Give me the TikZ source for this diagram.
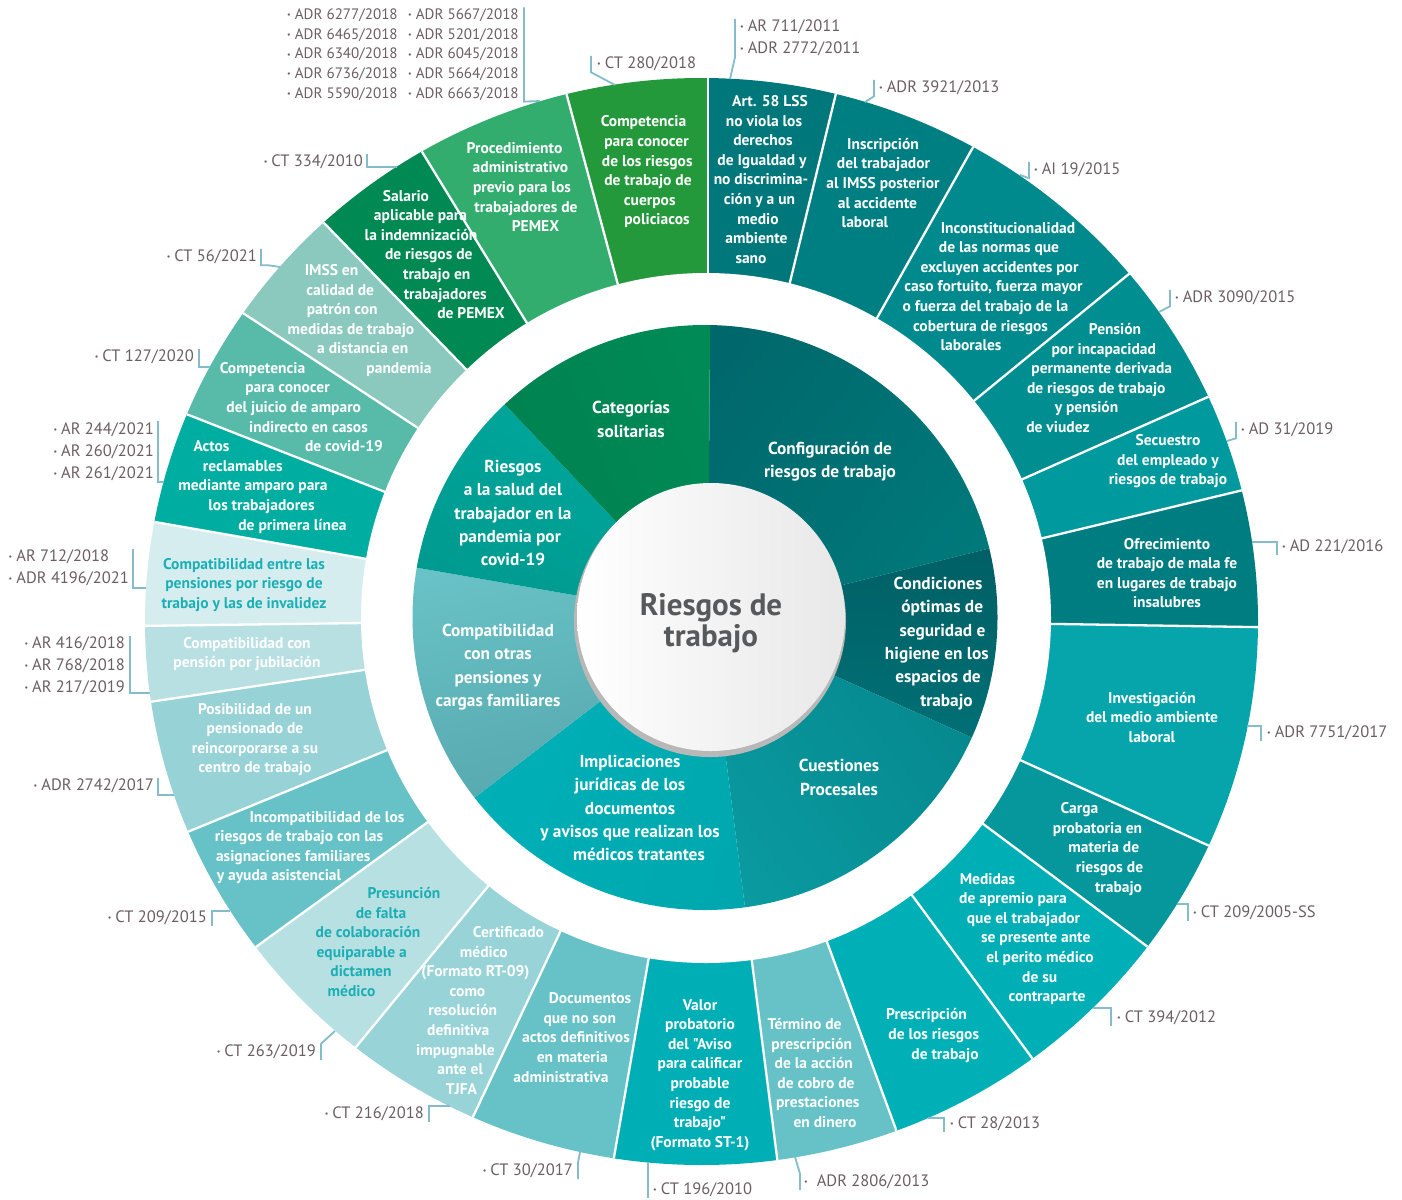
\documentclass[tikz,border=0pt]{standalone}
\usepackage{fontspec}
\setmainfont{PT Sans}[Ligatures=TeXOff]
\definecolor{refc}{HTML}{6D5E63}
\definecolor{brkc}{HTML}{84BCCB}
\definecolor{tealtext}{HTML}{1BAFB5}
\definecolor{ctext}{HTML}{58595B}
% outer ring
\definecolor{o1}{HTML}{00777B}
\definecolor{o2}{HTML}{007F83}
\definecolor{o3}{HTML}{008A8E}
\definecolor{o4}{HTML}{008E91}
\definecolor{o5}{HTML}{00999E}
\definecolor{o6}{HTML}{007D80}
\definecolor{o7}{HTML}{05A5AB}
\definecolor{o8}{HTML}{06979C}
\definecolor{o9}{HTML}{00AEB5}
\definecolor{o10}{HTML}{00B0B7}
\definecolor{o11}{HTML}{66C2C6}
\definecolor{o12}{HTML}{00AFB6}
\definecolor{o13}{HTML}{66C2C6}
\definecolor{o14}{HTML}{97D3D7}
\definecolor{o15}{HTML}{B7E0E3}
\definecolor{o16}{HTML}{66C2C6}
\definecolor{o17}{HTML}{97D2D7}
\definecolor{o18}{HTML}{B8E0E3}
\definecolor{o19}{HTML}{D5EDEF}
\definecolor{o20}{HTML}{00AEA1}
\definecolor{o21}{HTML}{58BBA9}
\definecolor{o22}{HTML}{8BC9BF}
\definecolor{o23}{HTML}{008953}
\definecolor{o24}{HTML}{33AD6E}
\definecolor{o25}{HTML}{24993B}
% inner ring: dark (counter-clockwise side) and light tones
\definecolor{i1d}{HTML}{00676B}\definecolor{i1l}{HTML}{007C7E}
\definecolor{i2d}{HTML}{005D62}\definecolor{i2l}{HTML}{00747A}
\definecolor{i3d}{HTML}{04848A}\definecolor{i3l}{HTML}{0A9CA2}
\definecolor{i4d}{HTML}{00A6AD}\definecolor{i4l}{HTML}{00B3BA}
\definecolor{i5d}{HTML}{52A2A8}\definecolor{i5l}{HTML}{6AC4C8}
\definecolor{i6d}{HTML}{00978E}\definecolor{i6l}{HTML}{00AC9F}
\definecolor{i7d}{HTML}{007F4E}\definecolor{i7l}{HTML}{008B56}
% shift one line of a centred block sideways without changing its width
\newcommand\mv[2]{\hspace*{#1pt}#2\hspace*{-#1pt}}
\newcommand\bu{\raisebox{1.8pt}{\fontsize{8}{8}\selectfont\textbullet}\hspace{4pt}}
% a wedge from the hub for the outer ring (clipped by the rim)
\newcommand\topicwedge[3]{%
  \fill[#1] (hub) -- ++(#2:720) arc[start angle=#2, end angle=#3, radius=720] -- cycle;}
% a shaded wedge from the hub for the inner ring
\newcommand\catwedge[5]{%
  \shade[top color=#1, bottom color=#2, shading angle=#5] (hub) -- ++(#3:400) arc[start angle=#3, end angle=#4, radius=400] -- cycle;}
\begin{document}
\begin{tikzpicture}[x=1pt, y=-1pt,
  slab/.style={text=white, font=\bfseries\fontsize{15.5}{19.6}\selectfont, align=center, inner sep=0pt},
  tlab/.style={slab, text=tealtext},
  ilab/.style={text=white, font=\bfseries\fontsize{17.3}{23.4}\selectfont, align=center, inner sep=0pt},
  ref/.style={text=refc, font=\fontsize{16.5}{22}\selectfont, align=left, inner sep=1pt, yshift=-2pt},
  brk/.style={draw=brkc, line width=1.8pt},
  divider/.style={draw=white, line width=2.3pt}]
\useasboundingbox (0,0) rectangle (1402,1199);
\fill[white] (0,0) rectangle (1402,1199);
\coordinate (hub) at (708,618.5);

% outer ring: the individual topics
\begin{scope}
\clip (701.5,621.5) ellipse [x radius=556.5, y radius=543.5];
\topicwedge{o1}{-90}{-76.3}
\topicwedge{o2}{-76.3}{-60.65}
\topicwedge{o3}{-60.65}{-39.3}
\topicwedge{o4}{-39.3}{-23.9}
\topicwedge{o5}{-23.9}{-13.5}
\topicwedge{o6}{-13.5}{0.9}
\topicwedge{o7}{0.9}{24.4}
\topicwedge{o8}{24.4}{36.75}
\topicwedge{o9}{36.75}{53.6}
\topicwedge{o10}{53.6}{69.8}
\topicwedge{o11}{69.8}{82.7}
\topicwedge{o12}{82.7}{99.9}
\topicwedge{o13}{99.9}{115.25}
\topicwedge{o14}{115.25}{129.4}
\topicwedge{o15}{129.4}{144}
\topicwedge{o16}{144}{157.7}
\topicwedge{o17}{157.7}{171.5}
\topicwedge{o18}{171.5}{179.25}
\topicwedge{o19}{179.25}{189.9}
\topicwedge{o20}{189.9}{201.4}
\topicwedge{o21}{201.4}{213.3}
\topicwedge{o22}{213.3}{225.85}
\topicwedge{o23}{225.85}{238.5}
\topicwedge{o24}{238.5}{254.9}
\topicwedge{o25}{254.9}{270}
\foreach \a in {-90,-76.3,-60.65,-39.3,-23.9,-13.5,0.9,24.4,36.75,53.6,69.8,82.7,99.9,115.25,129.4,144,157.7,171.5,179.25,189.9,201.4,213.3,225.85,238.5,254.9}
  \draw[divider] (hub) -- ++(\a:720);
\end{scope}

% white gap between the rings
\fill[white] (706,618) circle[radius=345];

% inner ring: the seven categories
\begin{scope}
\clip (705,617.5) circle[radius=292.5];
\catwedge{i1d}{i1l}{-89.6}{-14}{52}
\catwedge{i2d}{i2l}{-14}{24.3}{-5}
\catwedge{i3d}{i3l}{24.3}{82.7}{-53}
\catwedge{i4d}{i4l}{82.7}{142.5}{-112.6}
\catwedge{i5d}{i5l}{142.5}{189.9}{193.8}
\catwedge{i6d}{i6l}{189.9}{226.5}{151.8}
\catwedge{i7d}{i7l}{226.5}{270.4}{111.8}
\end{scope}

% central disc with its shadow
\fill[black!28] (710,621) circle[radius=136];
\shade[left color=white, right color=black!9] (711,617) circle[radius=134];
\node[text=ctext, font=\bfseries\fontsize{31}{31}\selectfont, align=center] (ctr) at (711,623) {Riesgos de\\trabajo};

% category labels
\node[ilab] (c1) at (830,461.5) {Configuración de\\riesgos de trabajo};
\node[ilab] (c2) at (940,643.5) {\mv{-2}{Condiciones}\\\mv{4.5}{óptimas de}\\\mv{5}{seguridad e}\\\mv{-6.5}{higiene en los}\\\mv{-4}{espacios de}\\\mv{6.5}{trabajo}};
\node[ilab] (c3) at (839,777.5) {Cuestiones\\Procesales};
\node[ilab] (c4) at (630,808) {Implicaciones\\jurídicas de los\\documentos\\y avisos que realizan los\\\mv{9}{médicos tratantes}};
\node[ilab] (c5) at (498,667) {Compatibilidad\\con otras\\pensiones y\\cargas familiares};
\node[ilab] (c6) at (513,513) {Riesgos\\a la salud del\\trabajador en la\\\mv{-6}{pandemia por}\\covid-19};
\node[ilab] (c7) at (631,419.5) {Categorías\\solitarias};

% topic labels
\node[slab] (s1) at (760,179.5) {\mv{10}{Art. 58 LSS}\\\mv{8}{no viola los}\\\mv{6}{derechos}\\\mv{4}{de Igualdad y}\\\mv{2}{no discrimina-}\\\mv{-1}{ción y a un}\\\mv{-4}{medio}\\\mv{-7}{ambiente}\\\mv{-9}{sano}};
\node[slab] (s2) at (880,183) {\mv{3}{Inscripción}\\\mv{7}{del trabajador}\\\mv{6}{al IMSS posterior}\\\mv{-5}{al accidente}\\\mv{-15}{laboral}};
\node[slab] (s3) at (990,286.5) {\mv{18}{Inconstitucionalidad}\\\mv{18}{de las normas que}\\\mv{19}{excluyen accidentes por}\\\mv{7}{caso fortuito, fuerza mayor}\\\mv{-9}{o fuerza del trabajo de la}\\\mv{-19}{cobertura de riesgos}\\\mv{-19}{laborales}};
\node[slab] (s4) at (1095,378) {\mv{20}{Pensión}\\\mv{17.5}{por incapacidad}\\\mv{13.5}{permanente derivada}\\\mv{2.5}{de riesgos de trabajo}\\\mv{-17}{y pensión}\\\mv{-37}{de viudez}};
\node[slab] (s5) at (1168,461.5) {Secuestro\\del empleado y\\riesgos de trabajo};
\node[slab] (s6) at (1167,573) {Ofrecimiento\\de trabajo de mala fe\\en lugares de trabajo\\insalubres};
\node[slab] (s7) at (1152,717.5) {Investigación\\del medio ambiente\\laboral};
\node[slab] (s8) at (1100,849) {\mv{-20.5}{Carga}\\\mv{-5}{probatoria en}\\\mv{7.5}{materia de}\\\mv{19}{riesgos de}\\\mv{18.5}{trabajo}};
\node[slab] (s9) at (1030,939) {\mv{-42.5}{Medidas}\\\mv{-34}{de apremio para}\\\mv{-13}{que el trabajador}\\\mv{11.5}{se presente ante}\\\mv{20}{el perito médico}\\\mv{19.5}{de su}\\\mv{17}{contraparte}};
\node[slab] (s10) at (935,1035.5) {\mv{-8.5}{Prescripción}\\\mv{-2.5}{de los riesgos}\\\mv{10}{de trabajo}};
\node[slab] (s11) at (815,1073) {\mv{-10.5}{Término de}\\\mv{-6.5}{prescripción}\\\mv{-2.5}{de la acción}\\\mv{2}{de cobro de}\\\mv{5.5}{prestaciones}\\\mv{10}{en dinero}};
\node[slab] (s12) at (700,1075) {Valor\\probatorio\\del "Aviso\\para calificar\\probable\\riesgo de\\trabajo"\\(Formato ST-1)};
\node[slab] (s13) at (576,1037.5) {\mv{14}{Documentos}\\\mv{7.5}{que no son}\\actos definitivos\\\mv{-7.5}{en materia}\\\mv{-15}{administrativa}};
\node[slab] (s14) at (470,1010.5) {\mv{38.5}{Certificado}\\\mv{27.5}{médico}\\\mv{11}{(Formato RT-09)}\\\mv{-5}{como}\\\mv{-14.5}{resolución}\\\mv{-23.5}{definitiva}\\\mv{-29}{impugnable}\\\mv{-19.5}{ante el}\\\mv{-8.5}{TJFA}};
\node[tlab] (s15) at (370,942) {\mv{34}{Presunción}\\\mv{22}{de falta}\\\mv{-4}{de colaboración}\\\mv{-16.5}{equiparable a}\\\mv{-18}{dictamen}\\\mv{-18.5}{médico}};
\node[slab] (s16) at (300,847.5) {\mv{27}{Incompatibilidad de los}\\\mv{-2}{riesgos de trabajo con las}\\\mv{-13.5}{asignaciones familiares}\\\mv{-21}{y ayuda asistencial}};
\node[slab] (s17) at (255,739.5) {Posibilidad de un\\pensionado de\\reincorporarse a su\\centro de trabajo};
\node[slab] (s18) at (247,654) {Compatibilidad con\\pensión por jubilación};
\node[tlab] (s19) at (244,585) {Compatibilidad entre las\\pensiones por riesgo de\\trabajo y las de invalidez};
\node[slab] (s20) at (253,487) {\mv{-41.5}{Actos}\\\mv{-20.5}{reclamables}\\mediante amparo para\\\mv{17}{los trabajadores}\\\mv{39.5}{de primera línea}};
\node[slab] (s21) at (300,407) {\mv{-37.5}{Competencia}\\\mv{-25}{para conocer}\\\mv{-12.5}{del juicio de amparo}\\\mv{17}{indirecto en casos}\\\mv{44}{de covid-19}};
\node[slab] (s22) at (350,320.5) {\mv{-18.5}{IMSS en}\\\mv{-19.5}{calidad de}\\\mv{-15.5}{patrón con}\\\mv{2}{medidas de trabajo}\\\mv{25.5}{a distancia en}\\\mv{49}{pandemia}};
\node[slab] (s23) at (435,254.5) {\mv{-29}{Salario}\\\mv{-29}{aplicable para}\\\mv{-28}{la indemnización}\\\mv{-12.5}{de riesgos de}\\\mv{3.5}{trabajo en}\\\mv{20.5}{trabajadores}\\\mv{36}{de PEMEX}};
\node[slab] (s24) at (523,187) {\mv{-8.5}{Procedimiento}\\\mv{-5}{administrativo}\\\mv{-2}{previo para los}\\\mv{6}{trabajadores de}\\\mv{12.5}{PEMEX}};
\node[slab] (s25) at (648,172) {\mv{-4.5}{Competencia}\\\mv{-3}{para conocer}\\\mv{-1.5}{de los riesgos}\\de trabajo de\\\mv{3.5}{cuerpos}\\\mv{9}{policiacos}};

% points on the rim where the reference brackets meet the ring
\coordinate (eProc) at (540,101);
\coordinate (eComp) at (615,85);
\coordinate (eArt) at (730,79);
\coordinate (eIns) at (865,102);
\coordinate (eInc) at (1020,175);
\coordinate (ePen) at (1159,312);
\coordinate (eSec) at (1227,441);
\coordinate (eOfr) at (1252,542);
\coordinate (eInv) at (1247,726);
\coordinate (eCar) at (1177,904);
\coordinate (eMed) at (1093,1008);
\coordinate (ePre) at (928,1118);
\coordinate (eTer) at (795,1157);
\coordinate (eVal) at (648,1162);
\coordinate (eDoc) at (580,1152);
\coordinate (eCer) at (450,1106);
\coordinate (ePres) at (335,1031);
\coordinate (eIncp) at (230,911);
\coordinate (ePos) at (174,795);
\coordinate (eJub) at (150,693);
\coordinate (eInval) at (146,588);
\coordinate (eAct) at (164,482);
\coordinate (eCov) at (210,367);
\coordinate (eIMSS) at (280,267);
\coordinate (eSal) at (397,167);

% case references
\node[ref, anchor=west, font=\fontsize{15.1}{19.75}\selectfont] (rProcA) at (286,52.5) {\bu ADR 6277/2018\\\bu ADR 6465/2018\\\bu ADR 6340/2018\\\bu ADR 6736/2018\\\bu ADR 5590/2018};
\node[ref, anchor=west, font=\fontsize{15.1}{19.75}\selectfont] (rProc) at (407,52.5) {\bu ADR 5667/2018\\\bu ADR 5201/2018\\\bu ADR 6045/2018\\\bu ADR 5664/2018\\\bu ADR 6663/2018};
\node[ref, anchor=west] (rComp) at (596,62) {\bu CT 280/2018};
\node[ref, anchor=west] (rArt) at (739,36) {\bu AR 711/2011\\\bu ADR 2772/2011};
\node[ref, anchor=west] (rIns) at (878,86) {\bu ADR 3921/2013};
\node[ref, anchor=west] (rInc) at (1033,168) {\bu AI 19/2015};
\node[ref, anchor=west] (rPen) at (1174,296) {\bu ADR 3090/2015};
\node[ref, anchor=west] (rSec) at (1240,428) {\bu AD 31/2019};
\node[ref, anchor=west] (rOfr) at (1281,545) {\bu AD 221/2016};
\node[ref, anchor=west] (rInv) at (1266,731) {\bu ADR 7751/2017};
\node[ref, anchor=west] (rCar) at (1192,911) {\bu CT 209/2005-SS};
\node[ref, anchor=west] (rMed) at (1116,1016) {\bu CT 394/2012};
\node[ref, anchor=west] (rPre) at (949,1122) {\bu CT 28/2013};
\node[ref, anchor=west] (rTer) at (803,1180) {\bu\hspace{5pt}ADR 2806/2013};
\node[ref, anchor=west] (rVal) at (652,1188) {\bu CT 196/2010};
\node[ref, anchor=east] (rDoc) at (574,1169) {\bu CT 30/2017};
\node[ref, anchor=east] (rCer) at (425,1112) {\bu CT 216/2018};
\node[ref, anchor=east] (rPres) at (317,1050) {\bu CT 263/2019};
\node[ref, anchor=east] (rIncp) at (208,916) {\bu CT 209/2015};
\node[ref, anchor=east] (rPos) at (155,784) {\bu ADR 2742/2017};
\node[ref, anchor=east] (rJub) at (126,664) {\bu AR 416/2018\\\bu AR 768/2018\\\bu AR 217/2019};
\node[ref, anchor=east] (rInval) at (130,566) {\bu AR 712/2018\\\bu ADR 4196/2021};
\node[ref, anchor=east] (rAct) at (155,449.5) {\bu AR 244/2021\\\bu AR 260/2021\\\bu AR 261/2021};
\node[ref, anchor=east] (rCov) at (195,355) {\bu CT 127/2020};
\node[ref, anchor=east] (rIMSS) at (258,255) {\bu CT 56/2021};
\node[ref, anchor=east] (rSal) at (364,160) {\bu CT 334/2010};

% brackets from the references to the ring
\draw[brk] ([xshift=4pt]rProc.north east) -- ([xshift=4pt]rProc.south east) -- (eProc);
\draw[brk] (eComp) -- ([xshift=-5pt]rComp.south west) -- ([xshift=-5pt]rComp.north west);
\draw[brk] (eArt) -- ([xshift=-4pt]rArt.south west) -- ([xshift=-4pt]rArt.north west);
\draw[brk] (eIns) -- ([xshift=-4pt]rIns.south west) -- ([xshift=-4pt]rIns.north west);
\draw[brk] (eInc) -- ([xshift=-4pt]rInc.south west) -- ([xshift=-4pt]rInc.north west);
\draw[brk] (ePen) -- ([xshift=-4pt]rPen.south west) -- ([xshift=-4pt]rPen.north west);
\draw[brk] (eSec) -- ([xshift=-4pt]rSec.south west) -- ([xshift=-4pt]rSec.north west);
\draw[brk] (eOfr) -| ([xshift=-4pt]rOfr.south west);
\draw[brk] (eInv) -| ([xshift=-5pt]rInv.south west);
\draw[brk] (eCar) -| ([xshift=-4pt]rCar.south west);
\draw[brk] (eMed) -| ([xshift=-5pt]rMed.south west);
\draw[brk] (ePre) -| ([xshift=-5pt]rPre.south west);
\draw[brk] (eTer) -- ([xshift=-3pt]rTer.north west) -- ([xshift=-3pt]rTer.south west);
\draw[brk] (eVal) -- (eVal |- rVal.south);
\draw[brk] (eDoc) -- ([xshift=4pt]rDoc.north east) -- ([xshift=4pt]rDoc.south east);
\draw[brk] (eCer) -| ([xshift=4pt]rCer.south east);
\draw[brk] (ePres) -- ([xshift=4pt]rPres.north east) -- ([xshift=4pt]rPres.south east);
\draw[brk] (eIncp) -| ([xshift=4pt]rIncp.south east);
\draw[brk] (ePos) -| ([xshift=3pt]rPos.north east);
\draw[brk] (eJub) -| ([xshift=4pt]rJub.north east);
\draw[brk] (eInval) -| ([xshift=3pt]rInval.north east);
\draw[brk] (eAct) -| ([xshift=3pt]rAct.north east);
\draw[brk] (eCov) -| ([xshift=4pt]rCov.north east);
\draw[brk] (eIMSS) -- ([xshift=10pt]rIMSS.south east) -- ([xshift=3pt]rIMSS.south east) -- ([xshift=3pt]rIMSS.north east);
\draw[brk] (eSal) -| ([xshift=3pt]rSal.north east);
\end{tikzpicture}
\end{document}
